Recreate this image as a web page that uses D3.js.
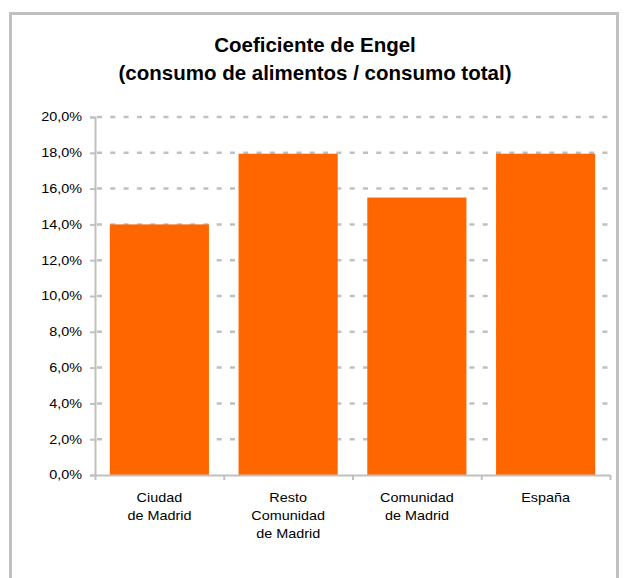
<!DOCTYPE html>
<html><head><meta charset="utf-8">
<script src="https://cdn.jsdelivr.net/npm/d3@7"></script>
<style>body{margin:0;background:#fff}svg{display:block;font-family:"Liberation Sans",Arial,sans-serif}</style>
</head><body><svg width="628" height="578"></svg>
<script>
const categories = [["Ciudad","de Madrid"],["Resto","Comunidad","de Madrid"],["Comunidad","de Madrid"],["España"]];
const values = [0.140, 0.1795, 0.155, 0.1795];
const yTicks = [0,0.02,0.04,0.06,0.08,0.10,0.12,0.14,0.16,0.18,0.20];
const titleLines = ["Coeficiente de Engel","(consumo de alimentos / consumo total)"];

(function(){
const svg = d3.select("svg");
const pL = 95, pR = 610, pT = 117, pB = 475;
const grey = "#c0c0c0";
const sx = 1.2;

// frame
svg.append("rect").attr("x",10.5).attr("y",13.5).attr("width",607).attr("height",600)
  .attr("fill","none").attr("stroke",grey).attr("stroke-width",3);

svg.selectAll("text.title").data(titleLines).join("text").attr("class","title")
  .attr("x",315).attr("y",(d,i)=>52+i*28).attr("text-anchor","middle")
  .attr("font-size",20.5).attr("font-weight","bold").attr("fill","#000").text(d=>d);

const x = d3.scaleBand().domain(d3.range(categories.length)).range([pL,pR]).paddingInner(0.23).paddingOuter(0.115);
const y = d3.scaleLinear().domain([0,0.2]).range([pB,pT]);

// grid
svg.append("g").selectAll("line").data(yTicks.filter(d=>d>0)).join("line")
  .attr("x1",pL+2).attr("x2",pR).attr("y1",d=>y(d)).attr("y2",d=>y(d))
  .attr("stroke",grey).attr("stroke-width",2.5).attr("stroke-dasharray","5,8.3");

// bars
svg.append("g").selectAll("rect").data(values).join("rect")
  .attr("x",(d,i)=>x(i)).attr("width",x.bandwidth())
  .attr("y",d=>y(d)).attr("height",d=>pB-y(d)).attr("fill","#ff6600");

// y axis
const fmt = d=>(d*100).toFixed(1).replace(".",",")+"%";
const yAxis = svg.append("g").attr("transform",`translate(${pL},0)`)
  .call(d3.axisLeft(y).tickValues(yTicks).tickFormat(fmt).tickSize(5).tickPadding(6));
yAxis.select(".domain").attr("stroke",grey).attr("stroke-width",2);
yAxis.selectAll(".tick line").attr("stroke",grey).attr("stroke-width",2);
yAxis.selectAll("text").attr("font-size",12).attr("fill","#000")
  .attr("font-family","Liberation Sans, Arial, sans-serif")
  .attr("x",0).attr("transform",`translate(-13,0) scale(${sx},1)`);

// x axis
const xb = d3.scaleLinear().domain([0,categories.length]).range([pL,pR]);
const xAxis = svg.append("g").attr("transform",`translate(0,${pB})`)
  .call(d3.axisBottom(xb).tickValues(d3.range(categories.length+1)).tickFormat("").tickSize(5).tickSizeOuter(0));
xAxis.select(".domain").attr("stroke",grey).attr("stroke-width",2);
xAxis.selectAll(".tick line").attr("stroke",grey).attr("stroke-width",2);

const lab = svg.append("g").selectAll("text").data(categories).join("text")
  .attr("transform",(d,i)=>`translate(${x(i)+x.bandwidth()/2},502) scale(${sx},1)`)
  .attr("text-anchor","middle").attr("font-size",12).attr("fill","#000");
lab.selectAll("tspan").data(d=>d).join("tspan")
  .attr("x",0).attr("dy",(d,i)=>i===0?0:18).text(d=>d);
})();
</script></body></html>
